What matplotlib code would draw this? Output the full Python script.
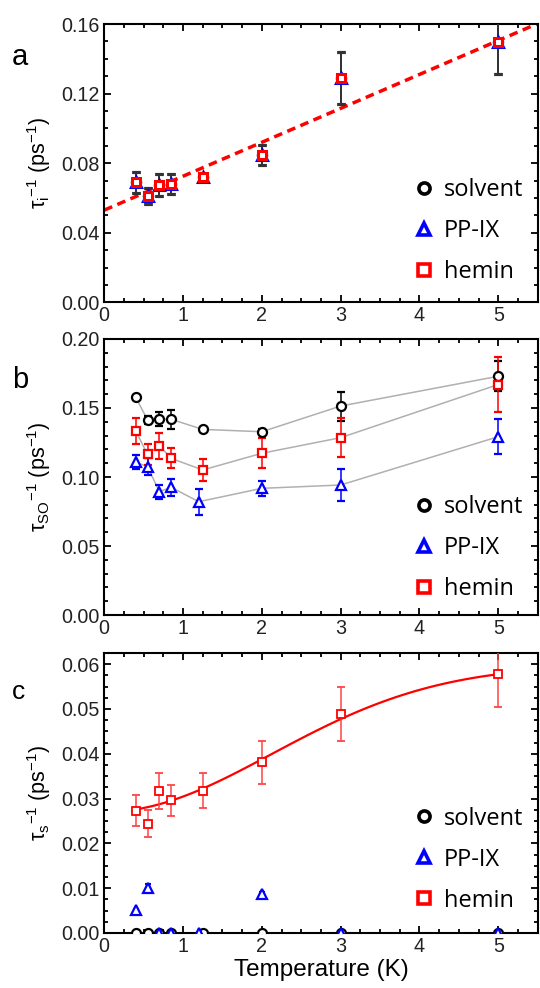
import numpy as np
import matplotlib
matplotlib.use('Agg')
import matplotlib.pyplot as plt
from matplotlib.lines import Line2D
from matplotlib.ticker import MultipleLocator

plt.rcParams['font.family'] = ['Liberation Sans', 'DejaVu Sans']
plt.rcParams['mathtext.fontset'] = 'custom'
plt.rcParams['mathtext.rm'] = 'Liberation Sans'
plt.rcParams['mathtext.it'] = 'Liberation Sans:italic'

# temperatures (K)
temp = [0.4, 0.55, 0.7, 0.85, 1.25, 2, 3, 5]
temp_pp = [0.4, 0.55, 0.7, 0.85, 1.2, 2, 3, 5]

# panel a: tau_i^-1, shared by all samples
tau_i = [0.069, 0.0611, 0.0675, 0.068, 0.0719, 0.0847, 0.129, 0.1495]
tau_i_err = [0.0062, 0.0048, 0.0065, 0.006, 0.002, 0.006, 0.015, 0.018]
fit_a = (0.053, 0.0195)  # intercept, slope of dashed line

# panel b: tau_SO^-1
so_solvent = [0.1577, 0.1413, 0.142, 0.1418, 0.1345, 0.1328, 0.1514, 0.173]
so_solvent_err = [0.002, 0.003, 0.005, 0.007, 0.002, 0.002, 0.0105, 0.011]
so_hemin = [0.1333, 0.1164, 0.1227, 0.1135, 0.1051, 0.1172, 0.1285, 0.167]
so_hemin_err = [0.0095, 0.0075, 0.0095, 0.0073, 0.0077, 0.011, 0.014, 0.02]
so_pp = [0.1106, 0.1075, 0.0894, 0.0925, 0.0821, 0.0918, 0.0942, 0.1292]
so_pp_err = [0.005, 0.006, 0.005, 0.006, 0.0095, 0.0055, 0.0118, 0.0125]

# panel c: tau_s^-1
s_solvent = [0, 0, 0, 0, 0, 0, 0, 0]
s_hemin = [0.0273, 0.0244, 0.0316, 0.0296, 0.0317, 0.0381, 0.0488, 0.0578]
s_hemin_err = [0.0034, 0.003, 0.004, 0.0035, 0.0039, 0.0048, 0.006, 0.0073]
s_pp = [0.0051, 0.0101, 0, 0, 0, 0.0086, 0, 0]
s_pp_err = [0, 0.0008, 0, 0, 0, 0.0005, 0, 0]
fit_c = (0.027, 0.0328, 3.0)  # y0, amplitude, T0

labels = ['solvent', 'PP-IX', 'hemin']
colors = ['black', '#0000ff', '#ff0000']
markers = ['o', '^', 's']

fig = plt.figure(figsize=(5.4, 9.88), dpi=100)
W = 0.8027
L = 0.193
ax_a = fig.add_axes([L, 0.694, W, 0.2817])
ax_b = fig.add_axes([L, 0.3775, W, 0.2794])
ax_c = fig.add_axes([L, 0.0557, W, 0.2834])


def style(ax, ymax, major, minor):
    ax.set_xlim(0, 5.5)
    ax.set_ylim(0, ymax)
    ax.xaxis.set_major_locator(MultipleLocator(1))
    ax.xaxis.set_minor_locator(MultipleLocator(0.25))
    ax.yaxis.set_major_locator(MultipleLocator(major))
    ax.yaxis.set_minor_locator(MultipleLocator(minor))
    ax.yaxis.set_major_formatter(plt.FormatStrFormatter('%.2f'))
    ax.tick_params(which='both', direction='in', top=True, right=True,
                   width=1.3, labelsize=14.2, labelcolor='#222222', pad=3)
    ax.tick_params(which='major', length=5)
    ax.tick_params(which='minor', length=3)
    for s in ax.spines.values():
        s.set_linewidth(1.5)


def add_legend(ax, y0):
    handles = [Line2D([], [], ls='none', marker=m, color=c, mfc='white',
                      ms=8, mew=2.6) for m, c in zip(markers, colors)]
    ax.legend(handles, labels, loc='lower right', bbox_to_anchor=(1.0, y0),
              frameon=False, handlelength=0.8, handletextpad=0.45,
              labelspacing=0.72, borderaxespad=0.2,
              prop={'family': 'Open Sans', 'size': 17})


# ---- panel a
ax = ax_a
xs = np.linspace(0, 5.5, 50)
ax.plot(xs, fit_a[0] + fit_a[1] * xs, '--', color='#ff0000', lw=2.5,
        dashes=(2.5, 1.6), zorder=1)
for m, c in zip(markers, colors):
    ax.errorbar(temp, tau_i, yerr=tau_i_err, fmt=m, color=c, mfc='white',
                ms=7 if m == '^' else 6, mew=2.2, ecolor='#333333',
                elinewidth=1.2, capsize=3, capthick=1.2, zorder=3)
style(ax, 0.16, 0.04, 0.01)
ax.set_ylabel('τ$_{\\rm i}{}^{-1}$ (ps$^{-1}$)', fontsize=15.5, labelpad=6)
add_legend(ax, 0.015)
fig.text(0.022, 0.942, 'a', fontsize=21, va='center')

# ---- panel b
ax = ax_b
for t, y, e, m, c in [(temp, so_solvent, so_solvent_err, 'o', 'black'),
                      (temp, so_hemin, so_hemin_err, 's', '#ff0000'),
                      (temp_pp, so_pp, so_pp_err, '^', '#0000ff')]:
    ax.plot(t, y, '-', color='#b0b0b0', lw=1.1, zorder=1)
    ax.errorbar(t, y, yerr=e, fmt=m, color=c, mfc='white',
                ms=7.5 if m == '^' else 6.5 if m == 'o' else 6,
                mew=1.6, ecolor=c, elinewidth=1.1, capsize=3, capthick=1.1,
                zorder=3)
style(ax, 0.20, 0.05, 0.01)
ax.set_ylabel('τ$_{\\rm SO}{}^{-1}$ (ps$^{-1}$)', fontsize=15.5, labelpad=6)
add_legend(ax, 0.0)
fig.text(0.022, 0.615, 'b', fontsize=21, va='center')

# ---- panel c
ax = ax_c
tt = np.linspace(0.4, 5, 100)
ax.plot(tt, fit_c[0] + fit_c[1] * (1 - np.exp(-(tt / fit_c[2]) ** 2)),
        '-', color='#ff0000', lw=1.6, zorder=2)
ax.plot(temp, s_solvent, 'o', color='black', mfc='white', ms=6.5, mew=1.6,
        zorder=3)
ax.errorbar(temp_pp, s_pp, yerr=s_pp_err, fmt='^', color='#0000ff',
            mfc='white', ms=7, mew=1.6, ecolor='#0000ff', elinewidth=1.1,
            capsize=2, zorder=4)
ax.errorbar(temp, s_hemin, yerr=s_hemin_err, fmt='s', color='#ff0000',
            mfc='white', ms=6, mew=1.3, ecolor='#ff4444', elinewidth=1.1,
            capsize=3, capthick=1.1, zorder=5)
style(ax, 0.0625, 0.01, 0.0025)
ax.set_ylabel('τ$_{\\rm s}{}^{-1}$ (ps$^{-1}$)', fontsize=15.5, labelpad=6)
ax.set_xlabel('Temperature (K)', fontsize=17.5, labelpad=2)
add_legend(ax, 0.022)
fig.text(0.022, 0.30, 'c', fontsize=19, va='center')

fig.savefig('out.png', dpi=100)
